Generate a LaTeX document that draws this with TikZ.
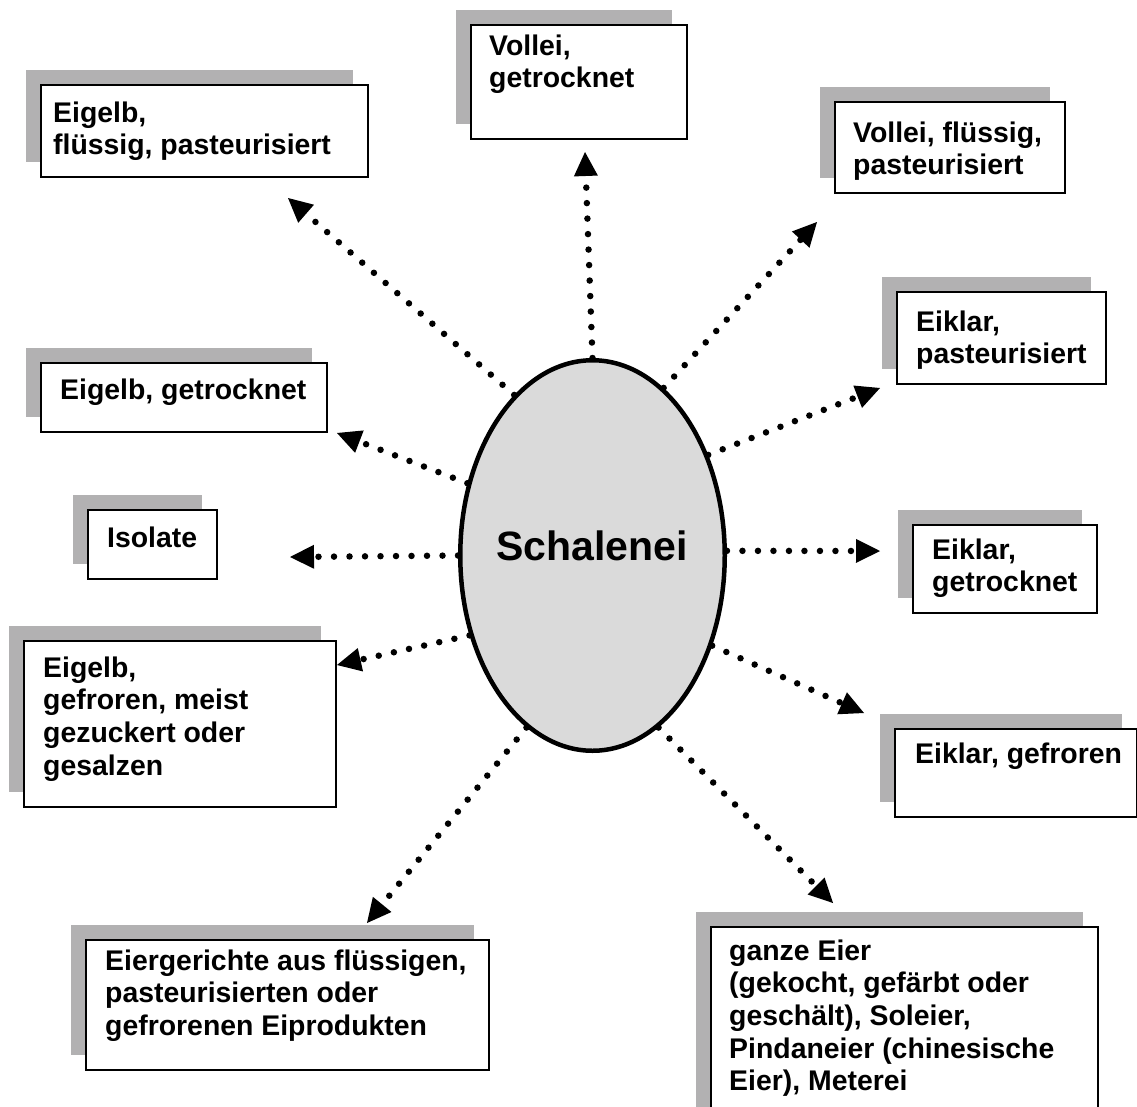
\documentclass[tikz,border=0pt]{standalone}
\usepackage{fontspec}
\setmainfont{Liberation Sans}
\usetikzlibrary{shapes.geometric,arrows.meta,shadows}
\definecolor{shadowgray}{RGB}{178,177,178}
\definecolor{eggfill}{RGB}{218,218,218}
\newcommand{\boxlines}[1]{\begin{tabular}[t]{@{}l@{}}#1\end{tabular}}
\begin{document}
\begin{tikzpicture}[x=1pt,y=-1pt,
  box/.style={draw=black, line width=2pt, fill=white, anchor=north west, inner sep=0pt,
    general shadow={shadow xshift=-15.5pt, shadow yshift=15pt, fill=shadowgray}},
  lbl/.style={anchor=base west, inner sep=0pt, font=\fontsize{28.4}{32.7}\selectfont\bfseries},
  arr/.style={line width=6.5pt, line cap=round, dash pattern=on 0pt off 15.5pt,
    -{Triangle[length=24pt,width=24pt,line width=0pt]}}]
\useasboundingbox (0,0) rectangle (1137,1106);
\clip (0,0) rectangle (1137,1106);

% boxes
\node[box, minimum width=327pt, minimum height=92pt]  (A) at (40,84)   {};
\node[box, minimum width=216pt, minimum height=114pt] (B) at (470,24)  {};
\node[box, minimum width=230pt, minimum height=91pt]  (C) at (834,101) {};
\node[box, minimum width=209pt, minimum height=92pt]  (D) at (896,291) {};
\node[box, minimum width=286pt, minimum height=69pt]  (E) at (40,362)  {};
\node[box, minimum width=129pt, minimum height=69pt]  (F) at (87,509)  {};
\node[box, minimum width=184pt, minimum height=88pt]  (G) at (912,524) {};
\node[box, minimum width=312pt, minimum height=166pt] (H) at (23,640)  {};
\node[box, minimum width=242pt, minimum height=88pt]  (I) at (894,728) {};
\node[box, minimum width=387pt, minimum height=200pt] (J) at (710,926) {};
\node[box, minimum width=403pt, minimum height=130pt] (K) at (85,939)  {};

% labels
\node[lbl] (At) at (53,122)  {\boxlines{Eigelb,\\flüssig, pasteurisiert}};
\node[lbl] (Bt) at (489,55)  {\boxlines{Vollei,\\getrocknet}};
\node[lbl] (Ct) at (853,142) {\boxlines{Vollei, flüssig,\\pasteurisiert}};
\node[lbl] (Dt) at (916,331) {\boxlines{Eiklar,\\pasteurisiert}};
\node[lbl] (Et) at (60,399)  {Eigelb, getrocknet};
\node[lbl] (Ft) at (107,547) {Isolate};
\node[lbl] (Gt) at (932,559) {\boxlines{Eiklar,\\getrocknet}};
\node[lbl] (Ht) at (43,677)  {\boxlines{Eigelb,\\gefroren, meist\\gezuckert oder\\gesalzen}};
\node[lbl] (It) at (915,763) {Eiklar, gefroren};
\node[lbl] (Jt) at (729,960) {\boxlines{ganze Eier\\(gekocht, gefärbt oder\\geschält), Soleier,\\Pindaneier (chinesische\\Eier), Meterei}};
\node[lbl] (Kt) at (105,970) {\boxlines{Eiergerichte aus flüssigen,\\pasteurisierten oder\\gefrorenen Eiprodukten}};

% egg
\node[ellipse, draw=black, line width=4.5pt, fill=eggfill, inner sep=0pt,
      minimum width=264.5pt, minimum height=390.5pt] (egg) at (592.5,555.5) {};
\node[anchor=base, inner sep=0pt, font=\fontsize{41}{48}\selectfont\bfseries] (eggt) at (592,560) {Schalenei};

% arrow tips
\coordinate (tA) at (288,198);
\coordinate (tB) at (585,152);
\coordinate (tC) at (817,222);
\coordinate (tD) at (880,388);
\coordinate (tE) at (337,433);
\coordinate (tF) at (290,557);
\coordinate (tG) at (880,551);
\coordinate (tH) at (337,665);
\coordinate (tI) at (864,713);
\coordinate (tJ) at (833,903);
\coordinate (tK) at (367,923);

% connectors
\draw[arr] (egg.116.5) -- (tA);
\draw[arr] (egg.90)    -- (tB);
\draw[arr] (egg.67.8)  -- (tC);
\draw[arr] (egg.41.3)  -- (tD);
\draw[arr] (egg.150.3) -- (tE);
\draw[arr] (egg.180)   -- (tF);
\draw[arr] (egg.2)     -- (tG);
\draw[arr] (egg.213.4) -- (tH);
\draw[arr] (egg.-37.1) -- (tI);
\draw[arr] (egg.-69)   -- (tJ);
\draw[arr] (egg.-111.2) -- (tK);
\end{tikzpicture}
\end{document}
